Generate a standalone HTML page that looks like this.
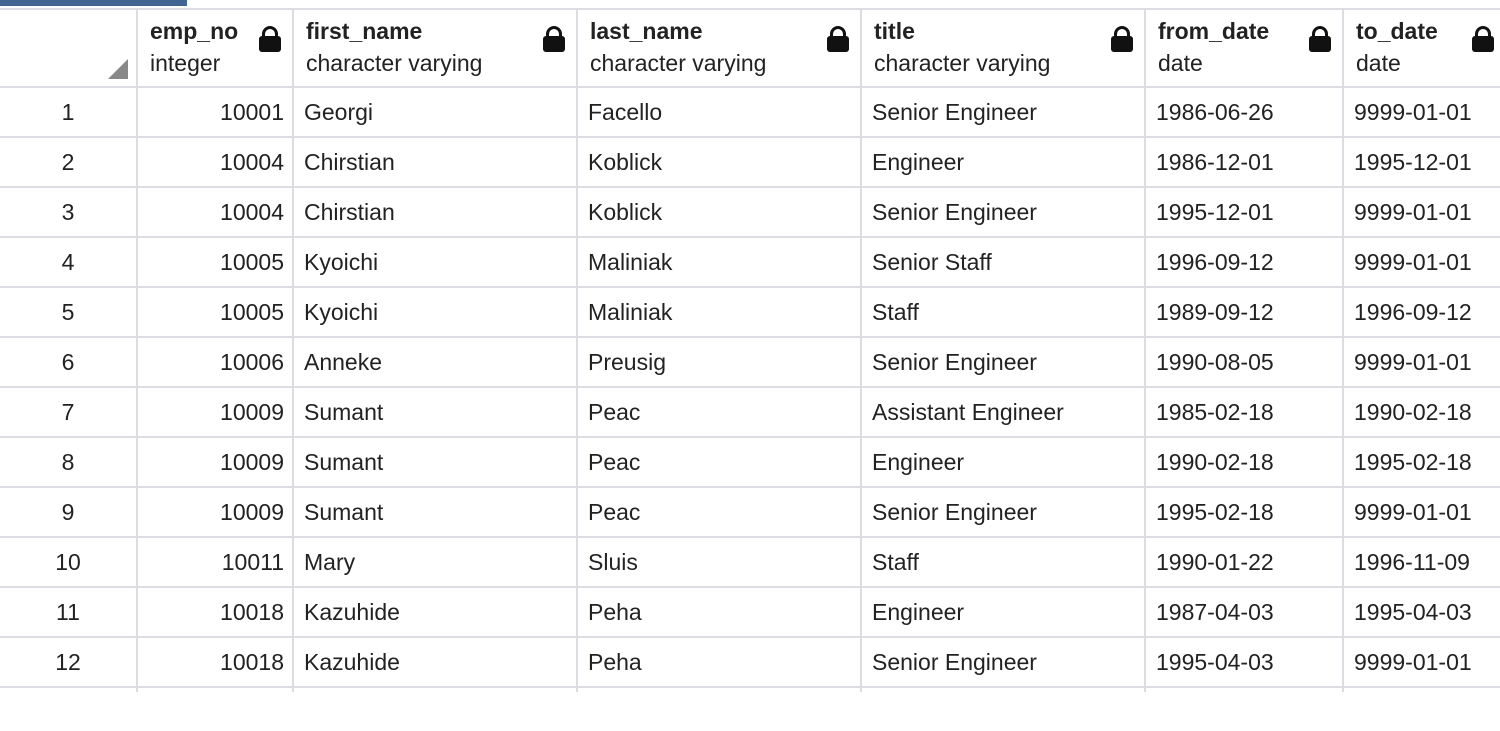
<!DOCTYPE html>
<html><head><meta charset="utf-8"><style>
body{margin:0;width:1500px;height:731px;background:#fff;position:relative;overflow:hidden;font-family:"Liberation Sans",Arial,sans-serif;color:#222;}
.bar{position:absolute;left:0;top:0;width:187px;height:6px;background:#426491;}
.h{position:absolute;height:2px;background:#dcdce2;left:0;width:1500px;}
.v{position:absolute;width:2px;background:#dcdce2;top:8px;height:684px;}
.hn{position:absolute;font-size:23px;font-weight:bold;top:18px;}
.ht{position:absolute;font-size:23px;top:50px;}
.lock{position:absolute;top:36px;width:22px;height:16px;background:#111;border-radius:3px;}
.lock:before{content:"";position:absolute;left:3px;top:-10px;width:10px;height:10px;border:3px solid #111;border-bottom:none;border-radius:8px 8px 0 0;}
.tri{position:absolute;left:108px;top:59px;width:0;height:0;border-left:20px solid transparent;border-bottom:20px solid #888;}
table{border-collapse:collapse;font-size:23px;table-layout:fixed;width:1500px;border-spacing:0}
td{padding-top:0;padding-bottom:0;height:50px;line-height:50px;white-space:nowrap;padding-left:12px;padding-right:0}
td:first-child{text-align:center;padding-left:0}
td:nth-child(2){text-align:right;padding-right:8px;padding-left:0}
</style></head><body>
<div class="bar"></div>
<div class="h" style="top:8px"></div>
<div class="h" style="top:86px"></div>
<div class="h" style="top:136px"></div>
<div class="h" style="top:186px"></div>
<div class="h" style="top:236px"></div>
<div class="h" style="top:286px"></div>
<div class="h" style="top:336px"></div>
<div class="h" style="top:386px"></div>
<div class="h" style="top:436px"></div>
<div class="h" style="top:486px"></div>
<div class="h" style="top:536px"></div>
<div class="h" style="top:586px"></div>
<div class="h" style="top:636px"></div>
<div class="h" style="top:686px"></div>
<div class="v" style="left:136px"></div>
<div class="v" style="left:292px"></div>
<div class="v" style="left:576px"></div>
<div class="v" style="left:860px"></div>
<div class="v" style="left:1144px"></div>
<div class="v" style="left:1342px"></div>
<div class="tri"></div>
<div class="hn" style="left:150px">emp_no</div><div class="ht" style="left:150px">integer</div><div class="lock" style="left:259px"></div>
<div class="hn" style="left:306px">first_name</div><div class="ht" style="left:306px">character varying</div><div class="lock" style="left:543px"></div>
<div class="hn" style="left:590px">last_name</div><div class="ht" style="left:590px">character varying</div><div class="lock" style="left:827px"></div>
<div class="hn" style="left:874px">title</div><div class="ht" style="left:874px">character varying</div><div class="lock" style="left:1111px"></div>
<div class="hn" style="left:1158px">from_date</div><div class="ht" style="left:1158px">date</div><div class="lock" style="left:1309px"></div>
<div class="hn" style="left:1356px">to_date</div><div class="ht" style="left:1356px">date</div><div class="lock" style="left:1472px"></div>
<div style="position:absolute;left:0;top:87px;width:1500px">
<table>
<colgroup><col style="width:136px"><col style="width:156px"><col style="width:284px"><col style="width:284px"><col style="width:284px"><col style="width:198px"><col style="width:158px"></colgroup>
<tbody>
<tr><td>1</td><td>10001</td><td>Georgi</td><td>Facello</td><td>Senior Engineer</td><td>1986-06-26</td><td>9999-01-01</td></tr>
<tr><td>2</td><td>10004</td><td>Chirstian</td><td>Koblick</td><td>Engineer</td><td>1986-12-01</td><td>1995-12-01</td></tr>
<tr><td>3</td><td>10004</td><td>Chirstian</td><td>Koblick</td><td>Senior Engineer</td><td>1995-12-01</td><td>9999-01-01</td></tr>
<tr><td>4</td><td>10005</td><td>Kyoichi</td><td>Maliniak</td><td>Senior Staff</td><td>1996-09-12</td><td>9999-01-01</td></tr>
<tr><td>5</td><td>10005</td><td>Kyoichi</td><td>Maliniak</td><td>Staff</td><td>1989-09-12</td><td>1996-09-12</td></tr>
<tr><td>6</td><td>10006</td><td>Anneke</td><td>Preusig</td><td>Senior Engineer</td><td>1990-08-05</td><td>9999-01-01</td></tr>
<tr><td>7</td><td>10009</td><td>Sumant</td><td>Peac</td><td>Assistant Engineer</td><td>1985-02-18</td><td>1990-02-18</td></tr>
<tr><td>8</td><td>10009</td><td>Sumant</td><td>Peac</td><td>Engineer</td><td>1990-02-18</td><td>1995-02-18</td></tr>
<tr><td>9</td><td>10009</td><td>Sumant</td><td>Peac</td><td>Senior Engineer</td><td>1995-02-18</td><td>9999-01-01</td></tr>
<tr><td>10</td><td>10011</td><td>Mary</td><td>Sluis</td><td>Staff</td><td>1990-01-22</td><td>1996-11-09</td></tr>
<tr><td>11</td><td>10018</td><td>Kazuhide</td><td>Peha</td><td>Engineer</td><td>1987-04-03</td><td>1995-04-03</td></tr>
<tr><td>12</td><td>10018</td><td>Kazuhide</td><td>Peha</td><td>Senior Engineer</td><td>1995-04-03</td><td>9999-01-01</td></tr>
</tbody></table></div>
</body></html>
